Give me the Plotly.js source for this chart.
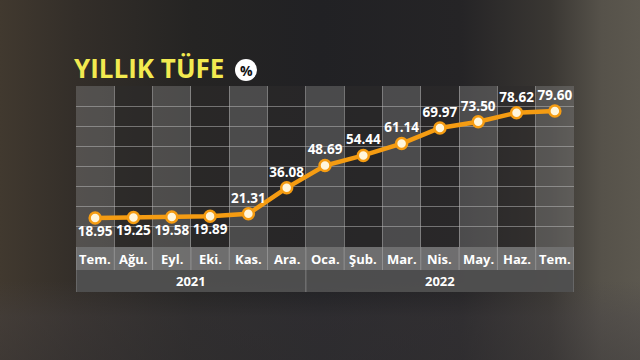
<!DOCTYPE html>
<html>
<head>
<meta charset="utf-8">
<script src="https://cdn.plot.ly/plotly-3.0.1.min.js"></script>
<style>
  html, body { margin: 0; padding: 0; width: 640px; height: 360px; overflow: hidden; }
  body {
    background:
      linear-gradient(to bottom, rgba(0,0,0,0) 0%, rgba(0,0,0,0) 78%, rgba(70,66,70,0.35) 88%, rgba(60,57,60,0.45) 100%),
      linear-gradient(to right, #41392f 0%, #332e29 12%, #252423 30%, #212124 50%, #252426 72%, #3a3733 86%, #56524a 94%, #5c584f 100%);
  }
  #chart { width: 640px; height: 360px; }
</style>
</head>
<body>
<div id="chart"></div>
<script>
const months = ["Tem.", "Ağu.", "Eyl.", "Eki.", "Kas.", "Ara.", "Oca.", "Şub.", "Mar.", "Nis.", "May.", "Haz.", "Tem."];
const years = ["2021", "2022"];
const yearSpans = [[0, 5], [6, 12]];
const values = [18.95, 19.25, 19.58, 19.89, 21.31, 36.08, 48.69, 54.44, 61.14, 69.97, 73.50, 78.62, 79.60];
const labels = ["18.95", "19.25", "19.58", "19.89", "21.31", "36.08", "48.69", "54.44", "61.14", "69.97", "73.50", "78.62", "79.60"];

const idx = months.map((m, i) => i);
const FONT = "Open Sans, Noto Sans, sans-serif";

const plotH = 161;
const bandM = 23 / plotH;
const bandY = 45 / plotH;

const shapes = [];
idx.forEach(i => {
  shapes.push({
    type: "rect", xref: "x", yref: "paper", layer: "below",
    x0: i - 0.5, x1: i + 0.5, y0: 0, y1: 1,
    fillcolor: i % 2 === 0 ? "rgba(125,125,125,0.45)" : "rgba(45,43,43,0.55)",
    line: { width: 0 }
  });
});
shapes.push({
  type: "rect", xref: "x", yref: "paper", layer: "below",
  x0: -0.5, x1: months.length - 0.5, y0: -bandM, y1: 0,
  fillcolor: "rgba(115,115,115,0.95)", line: { width: 0 }
});
shapes.push({
  type: "rect", xref: "x", yref: "paper", layer: "below",
  x0: -0.5, x1: months.length - 0.5, y0: -bandY, y1: -bandM,
  fillcolor: "rgba(80,80,80,0.95)", line: { width: 0 }
});
for (let i = 0; i <= months.length; i++) {
  shapes.push({
    type: "line", xref: "x", yref: "paper", layer: "below",
    x0: i - 0.5, x1: i - 0.5, y0: -bandM, y1: 0,
    line: { color: "rgba(170,170,170,0.6)", width: 1 }
  });
}
[-0.5, 5.5, 12.5].forEach(v => {
  shapes.push({
    type: "line", xref: "x", yref: "paper", layer: "below",
    x0: v, x1: v, y0: -bandY, y1: -bandM,
    line: { color: "rgba(150,150,150,0.7)", width: 1 }
  });
});

const annotations = [];
months.forEach((m, i) => {
  annotations.push({
    xref: "x", yref: "paper", x: i, y: -bandM / 2, text: m, showarrow: false,
    xanchor: "center", yanchor: "middle",
    font: { family: FONT, size: 13, color: "#ffffff", weight: "bold" }
  });
});
years.forEach((y, k) => {
  annotations.push({
    xref: "x", yref: "paper", x: (yearSpans[k][0] + yearSpans[k][1]) / 2, y: -(bandM + bandY) / 2,
    text: y, showarrow: false, xanchor: "center", yanchor: "middle",
    font: { family: FONT, size: 13, color: "#ffffff", weight: "bold" }
  });
});
annotations.push({
  xref: "paper", yref: "paper", x: 0, y: (247 - 68) / plotH, xanchor: "left", yanchor: "middle",
  xshift: -4, text: "YILLIK TÜFE", showarrow: false,
  font: { family: FONT, size: 26, color: "#f2ea50", weight: "bold" }
});
shapes.push({
  type: "circle", xref: "paper", yref: "paper",
  x0: (235 - 76) / 498, x1: (257 - 76) / 498,
  y0: (247 - 81) / plotH, y1: (247 - 59) / plotH,
  fillcolor: "#ffffff", line: { width: 0 }
});
annotations.push({
  xref: "paper", yref: "paper", x: (246 - 76) / 498, y: (247 - 70) / plotH,
  xanchor: "center", yanchor: "middle", text: "%", showarrow: false,
  font: { family: FONT, size: 14, color: "#111111", weight: "bold" }
});

const trace = {
  x: idx, y: values, text: labels,
  type: "scatter", mode: "lines+markers+text",
  line: { color: "#f59c12", width: 4.5 },
  marker: { size: 11, color: "#fff6dc", line: { color: "#f59c12", width: 2.5 } },
  textposition: values.map((v, i) => i < 4 ? "bottom center" : "top center"),
  textfont: { family: FONT, size: 13.5, color: "#ffffff", weight: "bold" },
  cliponaxis: false,
  hoverinfo: "skip"
};

const layout = {
  width: 640, height: 360,
  margin: { l: 76, r: 66, t: 86, b: 113, pad: 0 },
  paper_bgcolor: "rgba(0,0,0,0)",
  plot_bgcolor: "rgba(0,0,0,0)",
  showlegend: false,
  xaxis: {
    range: [-0.5, 12.5], showticklabels: false, zeroline: false, showline: false,
    tickmode: "array", tickvals: idx.map(i => i - 0.5).concat([12.5]), ticks: "",
    showgrid: true, gridcolor: "rgba(190,190,190,0.5)", gridwidth: 1, fixedrange: true
  },
  yaxis: {
    range: [2.51, 93.8], showticklabels: false, zeroline: false, showline: false,
    tick0: 2.51, dtick: (93.8 - 2.51) / 8, ticks: "",
    showgrid: true, gridcolor: "rgba(190,190,190,0.5)", gridwidth: 1, fixedrange: true
  },
  shapes: shapes,
  annotations: annotations
};

Plotly.newPlot("chart", [trace], layout, { displayModeBar: false, staticPlot: true });
</script>
</body>
</html>
